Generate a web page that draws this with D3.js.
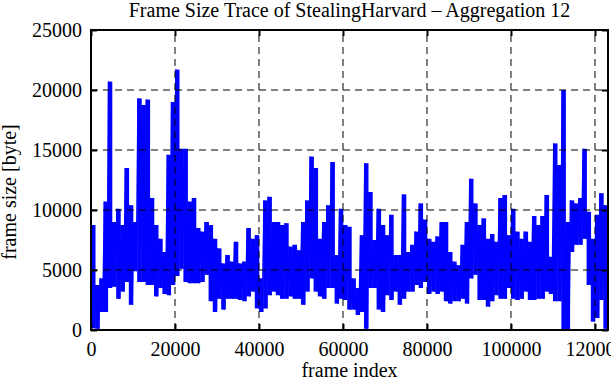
<!DOCTYPE html>
<html><head><meta charset="utf-8">
<script src="https://cdn.jsdelivr.net/npm/d3@7"></script>
<style>body{margin:0;background:#fff}svg{display:block}</style>
</head><body>
<svg id="c" width="611" height="380"></svg>
<script>
// Frame size envelope per 1000-frame bin (bytes): bin maximum and bin minimum
const binSize = 1000;
const hiVals = [8750,3750,4300,10700,20700,9000,10100,8750,13500,10400,
  9000,19300,18750,19200,11000,8750,7600,6500,14600,19000,
  21700,15100,15100,10700,11000,8500,8200,9000,8750,7600,
  6800,5550,6250,5700,7350,5550,5700,8500,7600,7900,
  4300,10800,11100,9000,9000,8750,8900,6950,7100,6650,
  9000,10800,14450,13500,7600,9000,10400,14000,6250,10100,
  8750,8600,4300,3500,7900,13900,11500,7500,10100,8750,
  7900,9600,6250,6250,11300,6500,7100,8200,10550,9200,
  7600,7350,7800,9000,9000,6500,5700,5400,7100,9000,
  12600,10550,8750,9300,7600,8000,7350,11000,11250,7900,
  10100,8200,7600,8200,7350,9500,8750,9500,11250,6100,
  15550,13750,20000,9000,10800,10550,11000,15100,9850,7600,
  9600,11400,10400];
const loVals = [150,100,1500,1500,3500,3600,2600,3200,4000,2100,
  4900,4000,4000,3750,3750,2800,3500,3000,2900,3750,
  4500,5100,4000,3900,3900,3900,4000,4600,2400,1500,
  2600,1700,2600,2600,2600,2500,2400,2800,3200,1800,
  1500,1800,2900,3200,2900,2600,2600,2800,2600,2600,
  2100,3200,4300,3200,2800,2600,3500,3500,2200,2600,
  2500,1700,1700,1250,1500,100,3500,3500,1700,1500,
  2900,2500,3200,2100,2600,3200,3200,3750,3500,4000,
  3000,3200,3000,3200,2400,2200,2400,2400,2600,2200,
  4300,4600,2500,2500,1950,2400,2900,2600,2600,3500,
  2600,2500,2600,3200,2500,2500,2600,2600,3200,3000,
  2400,2400,0,0,6500,7100,7100,7600,3750,700,
  1000,2500,100];
const xTicks = [0,20000,40000,60000,80000,100000,120000];
const yTicks = [0,5000,10000,15000,20000,25000];
const xMax = 123100;
const yMax = 25000;
const titleText = "Frame Size Trace of StealingHarvard \u2013 Aggregation 12";
const xLabel = "frame index";
const yLabel = "frame size [byte]";

const svg = d3.select("#c");
const m = {l:91, r:608, t:30, b:330};
const x = d3.scaleLinear().domain([0, xMax]).range([m.l, m.r]);
const y = d3.scaleLinear().domain([0, yMax]).range([m.b, m.t]);
const font = "'Liberation Serif','Times New Roman',serif";
const fs = 20;

const bins = hiVals.map((h, i) => ({i, hi: h, lo: loVals[i]}));

svg.append("defs").append("clipPath").attr("id","clip")
  .append("rect").attr("x", m.l).attr("y", m.t).attr("width", m.r-m.l).attr("height", m.b-m.t);

const tr = svg.append("g").attr("clip-path","url(#clip)");
// bin envelopes
tr.selectAll("rect").data(bins).join("rect")
  .attr("x", d => x(d.i*binSize))
  .attr("width", d => x(binSize) - x(0) + 0.3)
  .attr("y", d => y(d.hi))
  .attr("height", d => y(d.lo) - y(d.hi))
  .attr("fill","#0000ff");
// connecting trace line
const pts = [];
bins.forEach(d => {
  pts.push([d.i*binSize + 0.2*binSize, d.hi]);
  pts.push([d.i*binSize + 0.8*binSize, d.lo]);
});
tr.append("path")
  .attr("d", d3.line().x(d => x(d[0])).y(d => y(d[1]))(pts))
  .attr("fill","none").attr("stroke","#0000ff").attr("stroke-width",1.5);

// grid (front)
const g = svg.append("g").attr("stroke","#000").attr("stroke-width",1).attr("stroke-dasharray","7,5");
xTicks.filter(t => t > 0).forEach(t => {
  g.append("line").attr("x1", x(t)).attr("x2", x(t)).attr("y1", m.b).attr("y2", m.t);
});
yTicks.filter(t => t > 0 && t < yMax).forEach(t => {
  g.append("line").attr("x1", m.l).attr("x2", m.r).attr("y1", y(t)).attr("y2", y(t));
});

// axes with inward ticks
const xa = svg.append("g").attr("transform", `translate(0,${m.b})`)
  .call(d3.axisBottom(x).tickValues(xTicks).tickFormat(d3.format("d")).tickSizeInner(-6).tickSizeOuter(0).tickPadding(12));
const xt = svg.append("g").attr("transform", `translate(0,${m.t})`)
  .call(d3.axisTop(x).tickValues(xTicks).tickFormat("").tickSizeInner(-6).tickSizeOuter(0));
const ya = svg.append("g").attr("transform", `translate(${m.l},0)`)
  .call(d3.axisLeft(y).tickValues(yTicks).tickFormat(d3.format("d")).tickSizeInner(-6).tickSizeOuter(0).tickPadding(9));
const yr = svg.append("g").attr("transform", `translate(${m.r},0)`)
  .call(d3.axisRight(y).tickValues(yTicks).tickFormat("").tickSizeInner(-6).tickSizeOuter(0));
[xa, xt, ya, yr].forEach(a => {
  a.select(".domain").remove();
  a.selectAll(".tick line").attr("stroke","#000").attr("stroke-width",2);
  a.selectAll("text").attr("font-family", font).attr("font-size", fs).attr("fill","#000");
});

// frame
svg.append("rect").attr("x", m.l).attr("y", m.t).attr("width", m.r-m.l).attr("height", m.b-m.t)
  .attr("fill","none").attr("stroke","#000").attr("stroke-width",2);

svg.append("text").attr("x", (m.l+m.r)/2).attr("y", 17).attr("text-anchor","middle")
  .attr("font-family", font).attr("font-size", fs).text(titleText);
svg.append("text").attr("x", (m.l+m.r)/2).attr("y", 377).attr("text-anchor","middle")
  .attr("font-family", font).attr("font-size", fs).text(xLabel);
svg.append("text").attr("transform", `translate(16,192) rotate(-90)`).attr("text-anchor","middle")
  .attr("font-family", font).attr("font-size", fs).text(yLabel);
</script>
</body></html>
